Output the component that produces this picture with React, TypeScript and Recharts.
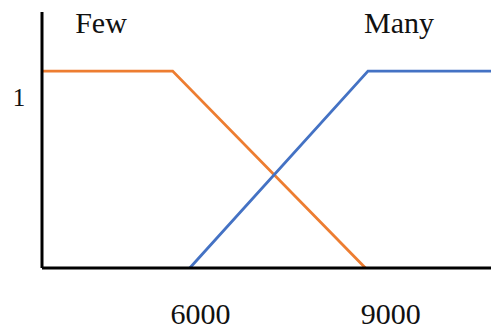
import { Line, LineChart, ReferenceDot, XAxis, YAxis } from "recharts";

const xDomain = [3500, 10580];
const yDomain = [0, 1.3];
const xTicks = [6000, 9000];
const yTicks = [1];

// membership curves (x value, membership)
const fewX = [3500, 5560, 8600];
const fewY = [1, 1, 0];
const manyX = [5830, 8640, 10580];
const manyY = [0, 1, 1];

const few = fewX.map((x, i) => ({ x, y: fewY[i] }));
const many = manyX.map((x, i) => ({ x, y: manyY[i] }));

const FONT = "'Liberation Serif', 'Times New Roman', serif";

function XTick({ x, y, payload }: any) {
  return (
    <text x={x} y={y + 37} textAnchor="middle" dominantBaseline="central" fontFamily={FONT} fontSize={30} fill="#111">
      {payload.value}
    </text>
  );
}

function YTick({ y, payload }: any) {
  return (
    <text x={19} y={y + 26} textAnchor="middle" dominantBaseline="central" fontFamily={FONT} fontSize={25} fill="#111">
      {payload.value}
    </text>
  );
}

export default function App() {
  return (
    <div style={{ position: "fixed", left: 0, top: 0, background: "#fff" }}>
      <LineChart width={491} height={331} margin={{ top: 12, right: 0, bottom: 0, left: 0 }}>
        <XAxis
          type="number"
          dataKey="x"
          domain={xDomain}
          ticks={xTicks}
          allowDataOverflow
          height={63}
          tickLine={false}
          axisLine={{ stroke: "#000", strokeWidth: 3 }}
          tick={<XTick />}
        />
        <YAxis
          type="number"
          dataKey="y"
          domain={yDomain}
          ticks={yTicks}
          width={42}
          tickLine={false}
          axisLine={{ stroke: "#000", strokeWidth: 3 }}
          tick={<YTick />}
        />
        <Line data={few} dataKey="y" type="linear" stroke="#ED7D31" strokeWidth={2.8} dot={false} isAnimationActive={false} />
        <Line data={many} dataKey="y" type="linear" stroke="#4472C4" strokeWidth={2.8} dot={false} isAnimationActive={false} />
        <ReferenceDot
          x={4430}
          y={1.249}
          r={0}
          fill="none"
          stroke="none"
          ifOverflow="visible"
          label={{ value: "Few", position: "center", fontFamily: FONT, fontSize: 30, fill: "#111" }}
        />
        <ReferenceDot
          x={9129}
          y={1.249}
          r={0}
          fill="none"
          stroke="none"
          ifOverflow="visible"
          label={{ value: "Many", position: "center", fontFamily: FONT, fontSize: 30, fill: "#111" }}
        />
      </LineChart>
    </div>
  );
}
